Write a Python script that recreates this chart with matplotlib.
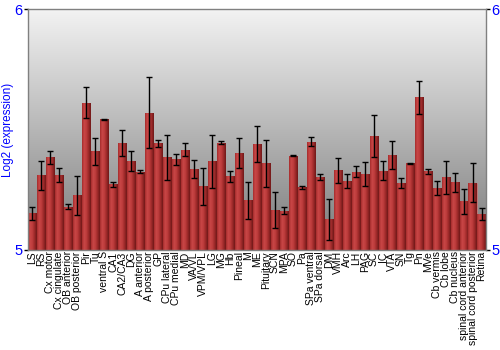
import numpy as np
import matplotlib.pyplot as plt
from matplotlib.colors import LinearSegmentedColormap

# regions and log2 expression
regions = ["LS", "RS", "Cx motor", "Cx cingulate", "OB anterior", "OB posterior",
           "Pir", "Tu", "ventral S", "CA1", "CA2/CA3", "DG", "A anterior",
           "A posterior", "GP", "CPu lateral", "CPu medial", "MD", "VA/VL",
           "VPM/VPL", "LG", "MG", "Hb", "Pineal", "M", "ME", "Pituitary", "SCN",
           "MPA", "SO", "Pa", "SPa ventral", "SPa dorsal", "DM", "VMH", "Arc",
           "LH", "PAG", "SC", "IC", "VTA", "SN", "Tg", "Pn", "MVe", "Cb vermis",
           "Cb lobe", "Cb nucleus", "spinal cord anterior",
           "spinal cord posterior", "Retina"]

expression = [5.152, 5.309, 5.384, 5.312, 5.180, 5.227,
              5.612, 5.409, 5.543, 5.272, 5.445, 5.370, 5.325,
              5.570, 5.442, 5.384, 5.376, 5.416, 5.337,
              5.264, 5.369, 5.445, 5.305, 5.403, 5.206, 5.441, 5.360, 5.164,
              5.163, 5.392, 5.260, 5.450, 5.304, 5.127, 5.330, 5.287,
              5.325, 5.315, 5.472, 5.329, 5.395, 5.278, 5.360, 5.633, 5.327, 5.257,
              5.301, 5.280, 5.202,
              5.279, 5.148]

errors = [0.026, 0.061, 0.026, 0.029, 0.012, 0.081,
          0.066, 0.055, 0.002, 0.012, 0.054, 0.041, 0.006,
          0.148, 0.014, 0.093, 0.022, 0.028, 0.037,
          0.077, 0.110, 0.006, 0.021, 0.062, 0.078, 0.074, 0.097, 0.075,
          0.014, 0.002, 0.007, 0.020, 0.012, 0.084, 0.052, 0.030,
          0.023, 0.050, 0.088, 0.039, 0.057, 0.021, 0.002, 0.069, 0.010, 0.028,
          0.067, 0.039, 0.051,
          0.080, 0.025]

ylim = (5, 6)

fig = plt.figure(figsize=(5, 3.5), dpi=100)
ax = fig.add_axes([0.056, 0.286, 0.916, 0.688])

x = np.arange(len(regions))

# grey vertical gradient background, light on top
bg = np.linspace(0, 1, 256).reshape(-1, 1)
bg_cmap = LinearSegmentedColormap.from_list("bg", ["#f3f3f3", "#7a7a7a"])
ax.imshow(bg, cmap=bg_cmap, aspect="auto", extent=(0, 1, 0, 1),
          transform=ax.transAxes, zorder=0)

bars = ax.bar(x, np.array(expression) - ylim[0], bottom=ylim[0], width=0.9,
              color="#b03535", edgecolor=(0.85, 0.55, 0.55, 0.6), linewidth=0.6,
              zorder=2)

# shaded cylinder look on each bar
bar_cmap = LinearSegmentedColormap.from_list(
    "bar", ["#a52c2c", "#c94747", "#bd3c3c", "#9a2828", "#701818"])
shade = np.linspace(0, 1, 64).reshape(1, -1)
for b in bars:
    x0, y0 = b.get_x(), b.get_y()
    im = ax.imshow(shade, cmap=bar_cmap, aspect="auto",
                   extent=(x0, x0 + b.get_width(), y0, y0 + b.get_height()),
                   zorder=2.5)
    im.set_clip_path(b)

ax.errorbar(x, expression, yerr=errors, fmt="none", ecolor="black",
            elinewidth=1, capsize=2, capthick=1, zorder=3)

ax.set_xlim(-0.5, len(regions) - 0.5)
ax.set_ylim(*ylim)

ax.set_xticks(x)
ax.set_xticklabels(regions, rotation=90, fontsize=7.5, family="Liberation Sans")
ax.tick_params(axis="x", length=0, pad=1)

ax.set_yticks([5, 6])
ax.tick_params(axis="y", length=3, width=1, color="black", labelcolor="blue",
               labelsize=10.5, pad=1, right=True, labelright=True)
for tick in ax.yaxis.get_major_ticks():
    tick.label1.set_family("Liberation Sans")
    tick.label2.set_family("Liberation Sans")

ax.set_ylabel("Log2 (expression)", color="blue", fontsize=8.5,
              family="Liberation Sans")
ax.yaxis.set_label_coords(-0.03, 0.5)

for s in ax.spines.values():
    s.set_color("#808080")
    s.set_linewidth(1)

fig.savefig("out.png", dpi=100)
